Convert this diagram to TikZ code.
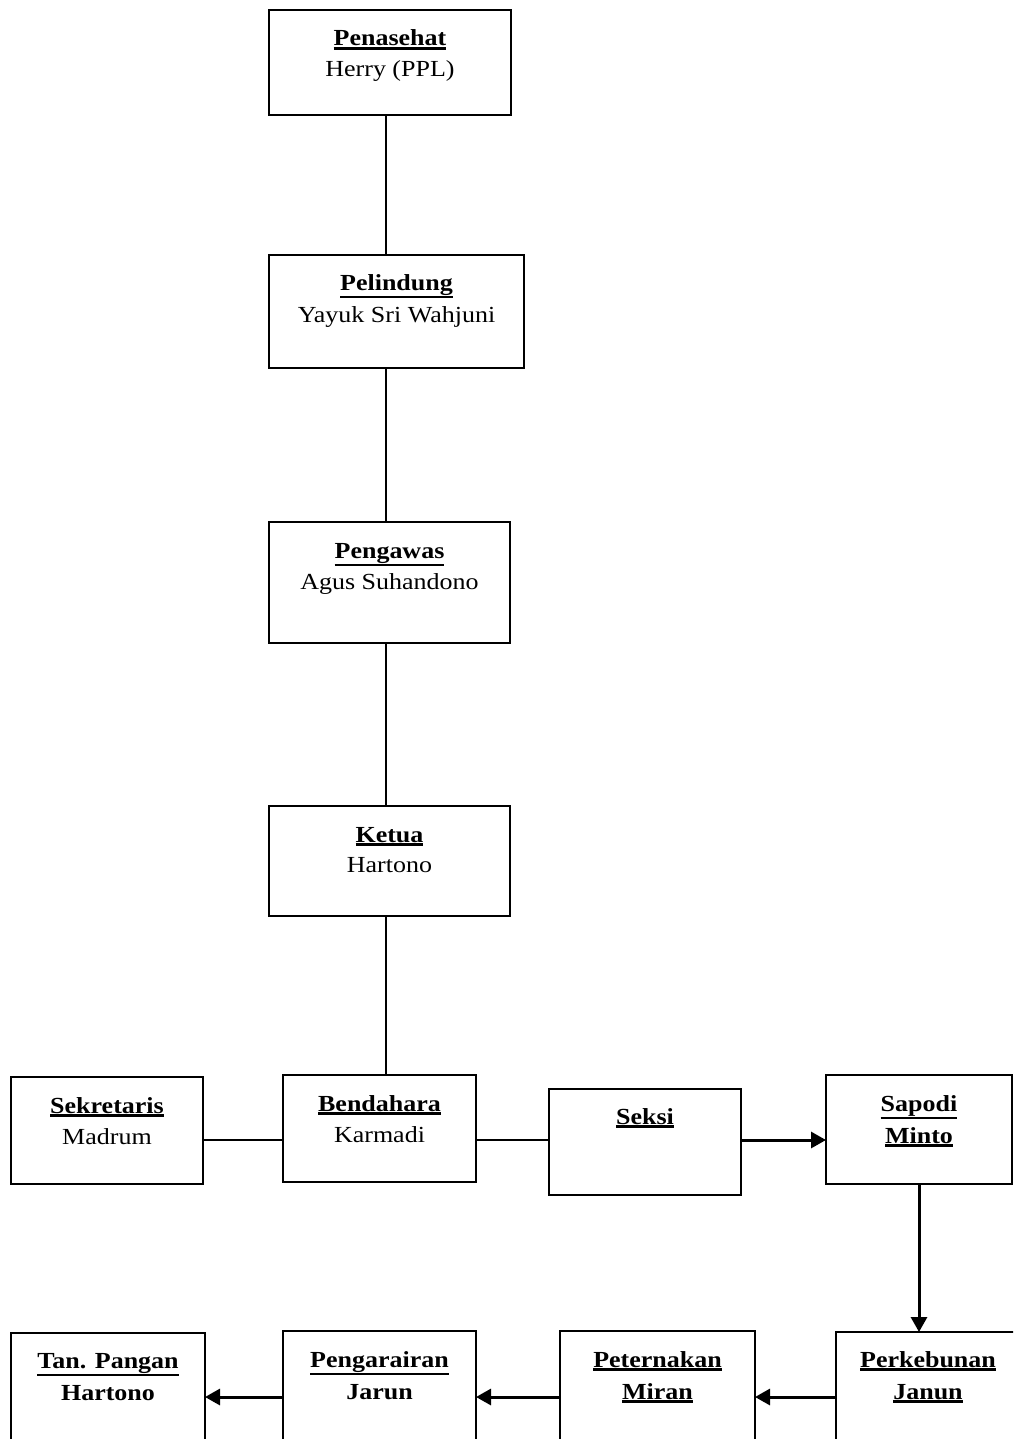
\documentclass[tikz,border=0pt]{standalone}
\usepackage{fontspec}
\setmainfont{Liberation Serif}[FakeStretch=1.13]
\usetikzlibrary{arrows.meta,calc}
\newcommand\ulbox[1]{\leavevmode\vtop{\hbox{#1}\kern1.2pt\hrule height 2.2pt}}
\tikzset{
  box/.style={draw, line width=2pt, inner sep=0pt, outer sep=0pt, anchor=north west},
  txt/.style={anchor=base, inner sep=0pt, font=\fontsize{23}{32}\selectfont},
  link/.style={line width=1.6pt},
  arr/.style={line width=3pt, -{Triangle[length=15pt,width=16pt]}},
}
\begin{document}
\begin{tikzpicture}[x=1pt,y=-1pt]
\clip (0,0) rectangle (1013,1439);
\fill[white] (0,0) rectangle (1013,1439);
% top column
\node[box, minimum width=242pt, minimum height=105pt] (pen) at (269,10) {};
\node[box, minimum width=255pt, minimum height=113pt] (pel) at (269,255) {};
\node[box, minimum width=241pt, minimum height=121pt] (pgw) at (269,522) {};
\node[box, minimum width=241pt, minimum height=110pt] (ket) at (269,806) {};
% middle row
\node[box, minimum width=192pt, minimum height=107pt] (sek) at (11,1077) {};
\node[box, minimum width=193pt, minimum height=107pt] (ben) at (283,1075) {};
\node[box, minimum width=192pt, minimum height=106pt] (sks) at (549,1089) {};
\node[box, minimum width=186pt, minimum height=109pt] (sap) at (826,1075) {};
% bottom row
\node[box, minimum width=194pt, minimum height=120pt] (tan) at (11,1333) {};
\node[box, minimum width=193pt, minimum height=120pt] (pga) at (283,1331) {};
\node[box, minimum width=195pt, minimum height=120pt] (pet) at (560,1331) {};
\node[box, minimum width=184pt, minimum height=120pt] (per) at (836,1332) {};
% texts
\node[txt] (penT) at ($(pen.north)+(0,36)$) {\ulbox{\textbf{Penasehat}}};
\node[txt] (penN) at ($(pen.north)+(0,67)$) {Herry (PPL)};
\node[txt] (pelT) at ($(pel.north)+(0,35)$) {\ulbox{\textbf{Pelindung}}};
\node[txt] (pelN) at ($(pel.north)+(0,67)$) {Yayuk Sri Wahjuni};
\node[txt] (pgwT) at ($(pgw.north)+(0,36)$) {\ulbox{\textbf{Pengawas}}};
\node[txt] (pgwN) at ($(pgw.north)+(0,67)$) {Agus Suhandono};
\node[txt] (ketT) at ($(ket.north)+(0,36)$) {\ulbox{\textbf{Ketua}}};
\node[txt] (ketN) at ($(ket.north)+(0,66)$) {Hartono};
\node[txt] (sekT) at ($(sek.north)+(0,36)$) {\ulbox{\textbf{Sekretaris}}};
\node[txt] (sekN) at ($(sek.north)+(0,67)$) {Madrum};
\node[txt] (benT) at ($(ben.north)+(0,36)$) {\ulbox{\textbf{Bendahara}}};
\node[txt] (benN) at ($(ben.north)+(0,67)$) {Karmadi};
\node[txt] (sksT) at ($(sks.north)+(0,35)$) {\ulbox{\textbf{Seksi}}};
\node[txt] (sapT) at ($(sap.north)+(0,36)$) {\ulbox{\textbf{Sapodi}}};
\node[txt] (sapN) at ($(sap.north)+(0,68)$) {\ulbox{\textbf{Minto}}};
\node[txt] (tanT) at ($(tan.north)+(0,35)$) {\ulbox{\textbf{Tan. Pangan}}};
\node[txt] (tanN) at ($(tan.north)+(0,67)$) {\textbf{Hartono}};
\node[txt] (pgaT) at ($(pga.north)+(0,36)$) {\ulbox{\textbf{Pengarairan}}};
\node[txt] (pgaN) at ($(pga.north)+(0,68)$) {\textbf{Jarun}};
\node[txt] (petT) at ($(pet.north)+(0,36)$) {\ulbox{\textbf{Peternakan}}};
\node[txt] (petN) at ($(pet.north)+(0,68)$) {\ulbox{\textbf{Miran}}};
\node[txt] (perT) at ($(per.north)+(0,35)$) {\ulbox{\textbf{Perkebunan}}};
\node[txt] (perN) at ($(per.north)+(0,67)$) {\ulbox{\textbf{Janun}}};
% connectors
\coordinate (vx) at (386,0);
\coordinate (hy) at (0,1140);
\coordinate (by) at (0,1397);
\draw[link] (vx |- pen.south) -- (vx |- pel.north);
\draw[link] (vx |- pel.south) -- (vx |- pgw.north);
\draw[link] (vx |- pgw.south) -- (vx |- ket.north);
\draw[link] (vx |- ket.south) -- (vx |- ben.north);
\draw[link] (sek.east |- hy) -- (ben.west |- hy);
\draw[link] (ben.east |- hy) -- (sks.west |- hy);
\draw[arr] (sks.east |- hy) -- (sap.west |- hy);
\draw[arr] (sap.south) -- (sap.south |- per.north);
\draw[arr] (per.west |- by) -- (pet.east |- by);
\draw[arr] (pet.west |- by) -- (pga.east |- by);
\draw[arr] (pga.west |- by) -- (tan.east |- by);
\end{tikzpicture}
\end{document}
